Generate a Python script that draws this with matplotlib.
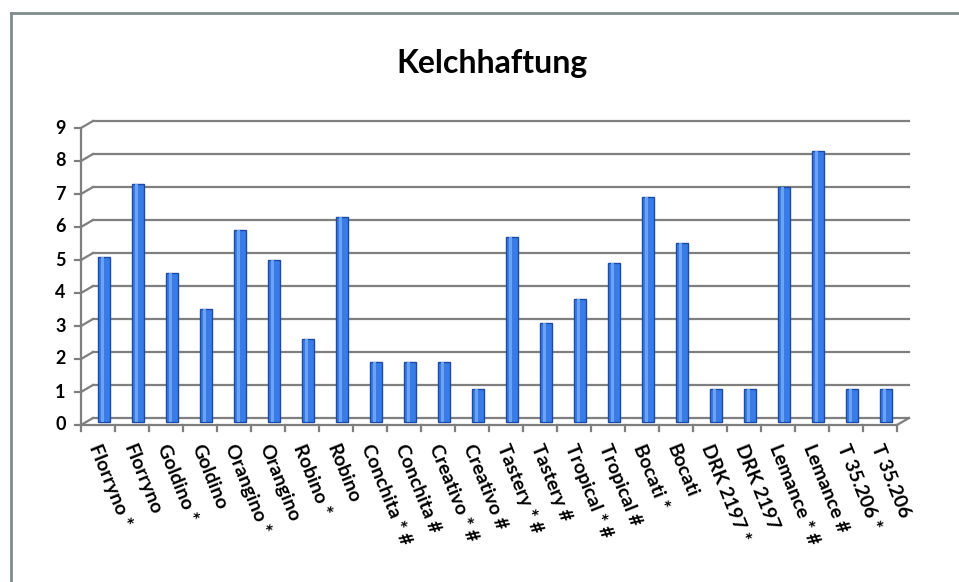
import matplotlib.pyplot as plt
import matplotlib.transforms as mtransforms

cultivars = ["Florryno *", "Florryno", "Goldino *", "Goldino", "Orangino *", "Orangino",
             "Robino *", "Robino", "Conchita * #", "Conchita #", "Creativo * #", "Creativo #",
             "Tastery * #", "Tastery #", "Tropical * #", "Tropical #", "Bocati *", "Bocati",
             "DRK 2197 *", "DRK 2197", "Lemance * #", "Lemance #", "T 35.206 *", "T 35.206"]
values = [5.0, 7.2, 4.5, 3.4, 5.8, 4.9, 2.5, 6.2, 1.8, 1.8, 1.8, 1.0,
          5.6, 3.0, 3.7, 4.8, 6.8, 5.4, 1.0, 1.0, 7.1, 8.2, 1.0, 1.0]
yticks = list(range(10))

W, H = 959, 582
fig = plt.figure(figsize=(W / 100, H / 100), dpi=100)
fig.patch.set_facecolor('white')

# outer frame (only left and top visible)
fig.add_artist(plt.Line2D([11 / W, 11 / W], [0, 1 - 13 / H], color='#7f8c8c', lw=2))
fig.add_artist(plt.Line2D([11 / W, 1], [1 - 13 / H, 1 - 13 / H], color='#7f8c8c', lw=2))

left, right, y0px, y9px = 81, 897, 425, 128
ax = fig.add_axes([left / W, 1 - y0px / H, (right - left) / W, (y0px - y9px) / H])
ax.set_xlim(0, len(values))
ax.set_ylim(0, 9)
ax.axis('off')

gc = '#7f7f7f'
back = ax.transData + mtransforms.ScaledTranslation(12 / 100, 7 / 100, fig.dpi_scale_trans)
mid = ax.transData + mtransforms.ScaledTranslation(6 / 100, 3.5 / 100, fig.dpi_scale_trans)
n = len(values)

# back wall gridlines and side wall diagonals
for v in yticks:
    ax.plot([0, n], [v, v], color=gc, lw=1.6, transform=back, clip_on=False, zorder=1)
    p0 = ax.transData.transform((0, v))
    p1 = back.transform((0, v))
    ax.plot([p0[0], p1[0]], [p0[1], p1[1]], color=gc, lw=1.6, transform=None,
            clip_on=False, zorder=1)
    ax.plot([-0.17, 0], [v, v], color=gc, lw=1.6, clip_on=False)
    ax.text(-0.45, v, str(v), ha='right', va='center', fontsize=13,
            fontweight='bold', family='Lato')

# front axes
ax.plot([0, 0], [0, 9], color=gc, lw=1.6, clip_on=False)
ax.plot([0, n], [0, 0], color=gc, lw=1.6, clip_on=False)
p0 = ax.transData.transform((n, 0))
p1 = back.transform((n, 0))
ax.plot([p0[0], p1[0]], [p0[1], p1[1]], color=gc, lw=1.6, transform=None, clip_on=False)
for i in range(n + 1):
    ax.plot([i, i], [0, -0.17], color=gc, lw=1.6, clip_on=False)

# bars
for i, v in enumerate(values):
    ax.bar(i + 0.5, v, width=0.38, color='#3a7ce6', edgecolor='#1c4aa8', lw=1.0,
           transform=mid, zorder=3)
    ax.bar(i + 0.46, v, width=0.1, color='#6aa3f5', lw=0, transform=mid, zorder=4)

# category labels
for i, name in enumerate(cultivars):
    ax.text(i + 0.38, -0.6, name, rotation=-68, rotation_mode='anchor',
            ha='left', va='center', fontsize=14, fontweight='bold', family='Lato')

fig.text(492 / W, 1 - 63 / H, 'Kelchhaftung', ha='center', va='center',
         fontsize=23, fontweight='bold', family='Lato')

fig.savefig('out.png', dpi=100)
